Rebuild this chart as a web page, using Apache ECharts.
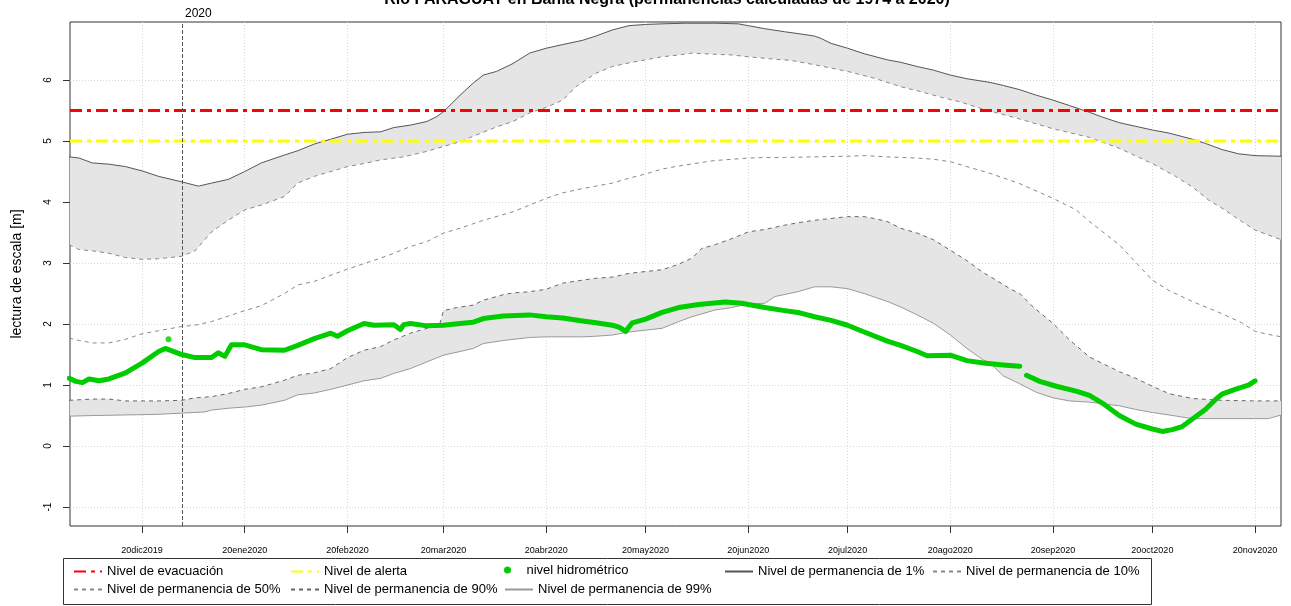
<!DOCTYPE html>
<html>
<head>
<meta charset="utf-8">
<script src="https://cdn.jsdelivr.net/npm/echarts@6/dist/echarts.min.js"></script>
<style>
  html, body { margin: 0; padding: 0; background: #fff; }
  #chart { width: 1291px; height: 606px; }
</style>
</head>
<body>
<div id="chart"></div>
<script>
// niveles de referencia
const evacLevel = 5.5;
const alertLevel = 5.0;
const yearMark = '2020-01-01';

// permanencia 1%
const p01Dates = ['2019-11-28','2019-12-01','2019-12-05','2019-12-10','2019-12-15','2019-12-20','2019-12-25','2020-01-01','2020-01-06','2020-01-10','2020-01-15','2020-01-20','2020-01-25','2020-02-01','2020-02-05','2020-02-10','2020-02-15','2020-02-20','2020-02-25','2020-03-01','2020-03-05','2020-03-10','2020-03-15','2020-03-18','2020-03-20','2020-03-25','2020-03-29','2020-04-01','2020-04-05','2020-04-10','2020-04-15','2020-04-20','2020-04-25','2020-05-01','2020-05-05','2020-05-10','2020-05-15','2020-05-20','2020-05-25','2020-06-01','2020-06-10','2020-06-17','2020-06-20','2020-06-25','2020-07-01','2020-07-05','2020-07-10','2020-07-12','2020-07-15','2020-07-20','2020-07-25','2020-08-01','2020-08-05','2020-08-10','2020-08-15','2020-08-20','2020-08-25','2020-09-01','2020-09-05','2020-09-10','2020-09-15','2020-09-20','2020-09-25','2020-10-01','2020-10-05','2020-10-10','2020-10-15','2020-10-20','2020-10-25','2020-11-01','2020-11-05','2020-11-10','2020-11-15','2020-11-20','2020-11-28'];
const p01 = [4.74,4.72,4.64,4.62,4.58,4.51,4.42,4.33,4.26,4.31,4.37,4.50,4.64,4.77,4.84,4.95,5.03,5.11,5.14,5.15,5.22,5.26,5.32,5.40,5.48,5.75,5.95,6.08,6.14,6.27,6.44,6.52,6.58,6.65,6.72,6.82,6.89,6.91,6.92,6.93,6.93,6.92,6.89,6.84,6.79,6.76,6.72,6.68,6.60,6.52,6.43,6.33,6.29,6.22,6.16,6.08,6.02,5.96,5.91,5.84,5.75,5.67,5.58,5.47,5.39,5.30,5.24,5.18,5.13,5.03,4.96,4.86,4.79,4.76,4.75];

// permanencia 10%
const p10Dates = ['2019-11-28','2019-12-01','2019-12-05','2019-12-10','2019-12-15','2019-12-20','2019-12-25','2020-01-01','2020-01-05','2020-01-10','2020-01-15','2020-01-20','2020-01-25','2020-02-01','2020-02-05','2020-02-10','2020-02-15','2020-02-20','2020-02-25','2020-03-01','2020-03-08','2020-03-15','2020-03-20','2020-03-25','2020-03-30','2020-04-05','2020-04-10','2020-04-15','2020-04-20','2020-04-25','2020-04-29','2020-05-05','2020-05-10','2020-05-15','2020-05-20','2020-05-25','2020-05-30','2020-06-03','2020-06-10','2020-06-15','2020-06-20','2020-06-28','2020-07-03','2020-07-10','2020-07-20','2020-07-28','2020-08-05','2020-08-11','2020-08-17','2020-08-23','2020-08-30','2020-09-10','2020-09-20','2020-10-01','2020-10-10','2020-10-20','2020-10-27','2020-11-01','2020-11-06','2020-11-10','2020-11-16','2020-11-20','2020-11-24','2020-11-28'];
const p10 = [3.30,3.22,3.20,3.16,3.09,3.06,3.07,3.11,3.20,3.51,3.70,3.87,3.95,4.09,4.31,4.42,4.50,4.58,4.63,4.69,4.74,4.83,4.91,4.99,5.10,5.23,5.32,5.46,5.55,5.67,5.89,6.11,6.22,6.28,6.33,6.38,6.41,6.44,6.42,6.41,6.38,6.34,6.32,6.25,6.14,6.03,5.89,5.81,5.72,5.64,5.52,5.36,5.20,5.06,4.88,4.63,4.42,4.25,4.03,3.90,3.68,3.54,3.46,3.38];

// permanencia 50%
const p50Dates = ['2019-11-28','2019-12-01','2019-12-05','2019-12-10','2019-12-15','2019-12-20','2019-12-25','2020-01-01','2020-01-05','2020-01-10','2020-01-15','2020-01-20','2020-01-25','2020-02-01','2020-02-05','2020-02-10','2020-02-15','2020-02-20','2020-02-25','2020-03-01','2020-03-05','2020-03-10','2020-03-15','2020-03-20','2020-03-25','2020-04-01','2020-04-10','2020-04-15','2020-04-20','2020-04-25','2020-05-01','2020-05-05','2020-05-10','2020-05-15','2020-05-20','2020-05-25','2020-05-30','2020-06-05','2020-06-10','2020-06-15','2020-06-20','2020-06-25','2020-07-01','2020-07-10','2020-07-20','2020-07-25','2020-08-01','2020-08-05','2020-08-10','2020-08-15','2020-08-20','2020-08-25','2020-09-01','2020-09-10','2020-09-20','2020-09-27','2020-10-01','2020-10-10','2020-10-15','2020-10-20','2020-10-25','2020-11-01','2020-11-10','2020-11-16','2020-11-20','2020-11-24','2020-11-28'];
const p50 = [1.77,1.73,1.69,1.69,1.75,1.84,1.89,1.96,1.98,2.04,2.13,2.22,2.30,2.50,2.64,2.70,2.80,2.90,2.99,3.08,3.16,3.27,3.35,3.49,3.57,3.70,3.84,3.95,4.06,4.15,4.22,4.26,4.31,4.39,4.46,4.54,4.59,4.64,4.68,4.70,4.72,4.73,4.73,4.74,4.75,4.76,4.74,4.73,4.72,4.70,4.66,4.58,4.47,4.30,4.06,3.87,3.68,3.30,3.01,2.72,2.55,2.37,2.17,2.02,1.88,1.83,1.79];

// permanencia 90%
const p90Dates = ['2019-11-28','2019-12-05','2019-12-10','2019-12-15','2019-12-20','2019-12-25','2020-01-01','2020-01-05','2020-01-10','2020-01-15','2020-01-20','2020-01-25','2020-02-01','2020-02-05','2020-02-10','2020-02-15','2020-02-20','2020-02-25','2020-03-01','2020-03-05','2020-03-10','2020-03-15','2020-03-19','2020-03-20','2020-03-24','2020-03-29','2020-04-01','2020-04-07','2020-04-10','2020-04-15','2020-04-20','2020-04-25','2020-05-01','2020-05-05','2020-05-10','2020-05-15','2020-05-20','2020-05-25','2020-05-30','2020-06-03','2020-06-06','2020-06-10','2020-06-15','2020-06-20','2020-06-25','2020-07-01','2020-07-05','2020-07-10','2020-07-15','2020-07-20','2020-07-25','2020-07-28','2020-08-01','2020-08-05','2020-08-10','2020-08-15','2020-08-20','2020-08-25','2020-08-30','2020-09-01','2020-09-07','2020-09-10','2020-09-14','2020-09-20','2020-09-25','2020-10-01','2020-10-07','2020-10-10','2020-10-15','2020-10-20','2020-10-25','2020-11-01','2020-11-10','2020-11-20','2020-11-28'];
const p90 = [0.75,0.77,0.77,0.74,0.74,0.74,0.75,0.79,0.81,0.86,0.93,0.97,1.08,1.16,1.20,1.27,1.45,1.57,1.63,1.74,1.85,1.93,2.02,2.22,2.27,2.31,2.39,2.48,2.51,2.53,2.57,2.67,2.72,2.75,2.77,2.83,2.86,2.89,2.98,3.08,3.24,3.30,3.40,3.51,3.55,3.62,3.66,3.70,3.73,3.76,3.76,3.73,3.68,3.57,3.49,3.38,3.21,3.04,2.84,2.78,2.58,2.50,2.28,2.01,1.74,1.46,1.30,1.22,1.11,0.98,0.86,0.78,0.75,0.74,0.74];

// permanencia 99%
const p99Dates = ['2019-11-28','2019-12-05','2019-12-15','2019-12-25','2020-01-01','2020-01-08','2020-01-10','2020-01-15','2020-01-20','2020-01-25','2020-02-01','2020-02-05','2020-02-10','2020-02-15','2020-02-20','2020-02-25','2020-03-01','2020-03-05','2020-03-10','2020-03-15','2020-03-20','2020-03-25','2020-03-29','2020-04-01','2020-04-07','2020-04-15','2020-04-20','2020-05-01','2020-05-05','2020-05-10','2020-05-15','2020-05-20','2020-05-25','2020-05-30','2020-06-03','2020-06-10','2020-06-15','2020-06-20','2020-06-25','2020-06-28','2020-07-05','2020-07-10','2020-07-15','2020-07-20','2020-07-25','2020-08-01','2020-08-05','2020-08-10','2020-08-15','2020-08-20','2020-08-25','2020-08-30','2020-09-01','2020-09-05','2020-09-10','2020-09-15','2020-09-20','2020-09-25','2020-10-01','2020-10-10','2020-10-15','2020-10-20','2020-10-25','2020-11-01','2020-11-24','2020-11-28'];
const p99 = [0.49,0.50,0.51,0.52,0.54,0.56,0.59,0.62,0.64,0.67,0.75,0.84,0.87,0.93,1.00,1.07,1.11,1.19,1.27,1.38,1.49,1.55,1.60,1.68,1.73,1.78,1.79,1.79,1.80,1.82,1.87,1.90,1.93,2.04,2.12,2.23,2.27,2.33,2.34,2.45,2.53,2.61,2.61,2.58,2.50,2.37,2.28,2.15,2.01,1.82,1.60,1.41,1.36,1.15,1.02,0.88,0.79,0.74,0.72,0.66,0.60,0.55,0.51,0.45,0.45,0.51];

// nivel hidrometrico (null = sin dato)
const nivelDates = ['2019-11-28','2019-11-30','2019-12-02','2019-12-04','2019-12-07','2019-12-10','2019-12-15','2019-12-20','2019-12-25','2019-12-27','2019-12-29','2020-01-01','2020-01-05','2020-01-10','2020-01-12','2020-01-14','2020-01-16','2020-01-20','2020-01-25','2020-02-01','2020-02-05','2020-02-10','2020-02-15','2020-02-17','2020-02-20','2020-02-25','2020-02-28','2020-03-05','2020-03-07','2020-03-08','2020-03-10','2020-03-15','2020-03-20','2020-03-25','2020-03-29','2020-04-01','2020-04-07','2020-04-15','2020-04-20','2020-04-25','2020-05-01','2020-05-05','2020-05-10','2020-05-12','2020-05-14','2020-05-16','2020-05-20','2020-05-25','2020-05-30','2020-06-05','2020-06-13','2020-06-18','2020-06-25','2020-07-01','2020-07-05','2020-07-10','2020-07-15','2020-07-20','2020-07-25','2020-08-01','2020-08-05','2020-08-10','2020-08-13','2020-08-20','2020-08-25','2020-08-30','2020-09-05','2020-09-10','2020-09-11','2020-09-12','2020-09-16','2020-09-21','2020-09-27','2020-10-01','2020-10-05','2020-10-10','2020-10-15','2020-10-20','2020-10-23','2020-10-26','2020-10-29','2020-11-01','2020-11-05','2020-11-08','2020-11-10','2020-11-14','2020-11-18','2020-11-20'];
const nivel = [1.11,1.06,1.04,1.10,1.07,1.10,1.20,1.36,1.55,1.60,1.56,1.50,1.45,1.45,1.53,1.47,1.66,1.66,1.58,1.57,1.65,1.76,1.85,1.80,1.89,2.01,1.98,1.99,1.91,1.99,2.01,1.97,1.98,2.01,2.03,2.09,2.13,2.15,2.12,2.10,2.05,2.02,1.98,1.95,1.88,2.02,2.08,2.19,2.27,2.32,2.36,2.34,2.27,2.22,2.19,2.12,2.06,1.98,1.87,1.72,1.65,1.55,1.48,1.49,1.40,1.36,1.33,1.31,null,1.16,1.06,0.98,0.90,0.83,0.70,0.50,0.36,0.28,0.24,0.27,0.32,0.44,0.60,0.76,0.85,0.93,1.00,1.07];
const nivelSueltoDates = ['2019-12-28'];
const nivelSuelto = [1.75];

// ejes
const xTickDates = ['2019-12-20','2020-01-20','2020-02-20','2020-03-20','2020-04-20','2020-05-20','2020-06-20','2020-07-20','2020-08-20','2020-09-20','2020-10-20','2020-11-20'];
const xTickLabels = ['20dic2019','20ene2020','20feb2020','20mar2020','20abr2020','20may2020','20jun2020','20jul2020','20ago2020','20sep2020','20oct2020','20nov2020'];
const yTicks = [-1, 0, 1, 2, 3, 4, 5, 6];

const ts = s => +echarts.time.parse(s);
const xMin = ts('2019-11-28 06:00');
const xMax = ts('2020-11-27 20:00');
const xTicks = xTickDates.map(ts);
const pairs = (dates, vals) => dates.map((d, i) => [ts(d), vals[i]]);

function band(upD, upV, loD, loV) {
  return {
    type: 'custom',
    silent: true,
    clip: true,
    z: 1,
    data: [[ts(upD[10]), upV[10]]],
    renderItem: (params, api) => {
      const pts = upD.map((d, i) => api.coord([ts(d), upV[i]]));
      for (let i = loD.length - 1; i >= 0; i--) pts.push(api.coord([ts(loD[i]), loV[i]]));
      return { type: 'polygon', shape: { points: pts }, style: { fill: '#e5e5e5' } };
    }
  };
}

function lineSeries(name, data, color, width, type, z) {
  return {
    name: name, type: 'line', data: data, symbol: 'none', z: z || 2,
    lineStyle: { color: color, width: width, type: type, cap: 'butt' },
    itemStyle: { color: color },
    emphasis: { disabled: true }
  };
}

const dashDot = [12, 5, 4, 5];

const evac = lineSeries('Nivel de evacuación', [[xMin, evacLevel], [xMax, evacLevel]], '#ff0000', 3, dashDot, 4);
evac.markLine = {
  silent: true, symbol: 'none',
  data: [{ xAxis: ts(yearMark) }],
  lineStyle: { color: '#555', width: 1, type: [4, 2] },
  label: { show: false }
};

const series = [
  band(p01Dates, p01, p10Dates, p10),
  band(p90Dates, p90, p99Dates, p99),
  evac,
  lineSeries('Nivel de alerta', [[xMin, alertLevel], [xMax, alertLevel]], '#ffff00', 3, dashDot, 4),
  {
    name: 'nivel hidrométrico', type: 'line', data: pairs(nivelDates, nivel),
    symbol: 'none', connectNulls: false, z: 5,
    lineStyle: { color: '#00cc00', width: 5, cap: 'round', join: 'round' },
    itemStyle: { color: '#00cc00' }
  },
  {
    name: 'nivel hidrométrico', type: 'scatter', data: pairs(nivelSueltoDates, nivelSuelto),
    symbolSize: 6, z: 5, itemStyle: { color: '#00cc00' }
  },
  lineSeries('Nivel de permanencia de 1%', pairs(p01Dates, p01), '#555555', 1, 'solid', 3),
  lineSeries('Nivel de permanencia de 10%', pairs(p10Dates, p10), '#888888', 1, [4, 4], 3),
  lineSeries('Nivel de permanencia de 50%', pairs(p50Dates, p50), '#888888', 1, [4, 4], 3),
  lineSeries('Nivel de permanencia de 90%', pairs(p90Dates, p90), '#666666', 1, [4, 4], 3),
  lineSeries('Nivel de permanencia de 99%', pairs(p99Dates, p99), '#999999', 1, 'solid', 3)
];

// leyenda: una por celda, como en la figura original
const legendCells = [
  ['Nivel de evacuación', 73, 570],
  ['Nivel de alerta', 290, 570],
  ['nivel hidrométrico', 504, 570, 'circle'],
  ['Nivel de permanencia de 1%', 724, 570],
  ['Nivel de permanencia de 10%', 932, 570],
  ['Nivel de permanencia de 50%', 73, 588],
  ['Nivel de permanencia de 90%', 290, 588],
  ['Nivel de permanencia de 99%', 504, 588]
];
const legend = legendCells.map(c => {
  const dot = !!c[3];
  const item = { name: c[0] };
  if (dot) item.icon = c[3];
  return {
    data: [item], left: c[1], top: c[2] - (dot ? 6.5 : 5), padding: 0,
    itemWidth: 28, itemHeight: dot ? 7 : 14, itemGap: 0, selectedMode: false,
    itemStyle: dot ? {} : { opacity: 0 },
    textStyle: { fontSize: 13, color: '#000' }
  };
});

const chart = echarts.init(document.getElementById('chart'));
chart.setOption({
  animation: false,
  textStyle: { fontFamily: 'Liberation Sans, Arial, sans-serif' },
  title: {
    text: 'Río PARAGUAY en Bahía Negra (permanencias calculadas de 1974 a 2020)',
    left: 662, top: -13, textAlign: 'center',
    textStyle: { fontSize: 16, fontWeight: 'bold', color: '#000' }
  },
  legend: legend,
  grid: {
    left: 70, right: 10, top: 22, bottom: 80,
    outerBoundsMode: 'none', containLabel: false,
    show: true, borderColor: '#333', borderWidth: 1, backgroundColor: '#fff'
  },
  xAxis: {
    type: 'value', min: xMin, max: xMax,
    axisLine: { show: false, onZero: false },
    axisTick: { show: true, customValues: xTicks, length: 7, lineStyle: { color: '#333' } },
    axisLabel: {
      customValues: xTicks, fontSize: 9, color: '#000', margin: 20,
      formatter: v => xTickLabels[xTicks.indexOf(v)]
    },
    splitLine: { show: true, lineStyle: { color: '#d9d9d9', type: [1, 2] } }
  },
  yAxis: {
    type: 'value', min: -1.31, max: 6.95,
    name: 'lectura de escala [m]', nameLocation: 'middle', nameGap: 46,
    nameTextStyle: { fontSize: 14, color: '#000' },
    axisLine: { show: false, onZero: false },
    axisTick: { show: true, customValues: yTicks, length: 7, lineStyle: { color: '#333' } },
    axisLabel: { customValues: yTicks, rotate: 90, fontSize: 10, color: '#000', margin: 17 },
    splitLine: { show: true, lineStyle: { color: '#d9d9d9', type: [1, 2] } }
  },
  graphic: [
    {
      type: 'rect', left: 61, top: 556, silent: true,
      shape: { width: 1088, height: 46 },
      style: { fill: 'none', stroke: '#333', lineWidth: 1 }
    },
    {
      type: 'text', left: 185, top: 8, silent: true,
      style: { text: '2020', fontSize: 12, fill: '#000', fontFamily: 'Liberation Sans, Arial, sans-serif' }
    }
  ],
  series: series
});
</script>
</body>
</html>
